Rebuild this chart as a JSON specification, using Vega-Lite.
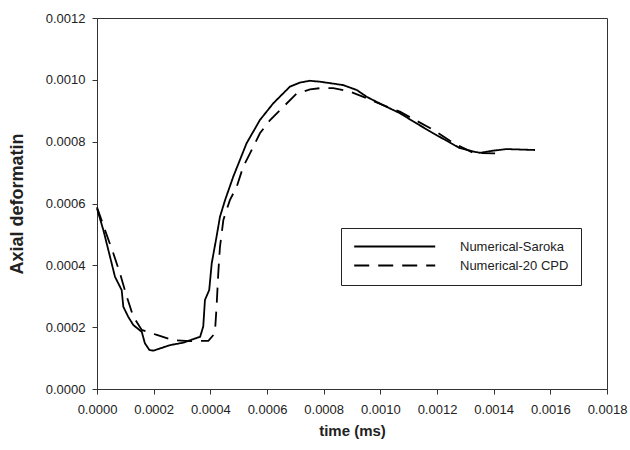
{
  "$schema": "https://vega.github.io/schema/vega-lite/v6.json",
  "autosize": "none",
  "padding": {"left": 97, "top": 18, "right": 23, "bottom": 61},
  "width": 510,
  "height": 371,
  "background": "white",
  "config": {
    "view": {"stroke": "#333", "strokeWidth": 1},
    "axis": {
      "grid": false,
      "domainColor": "#333",
      "tickColor": "#333",
      "tickSize": 5,
      "labelColor": "#222",
      "labelFont": "Liberation Sans",
      "labelFontSize": 13,
      "labelOverlap": false,
      "labelFlush": false,
      "titleFont": "Liberation Sans",
      "titleFontWeight": "bold",
      "titleColor": "#222"
    },
    "legend": {
      "orient": "none",
      "legendX": 244,
      "legendY": 210,
      "padding": 12,
      "strokeColor": "#222",
      "fillColor": "white",
      "symbolType": "M-2.65,0L37.85,0",
      "symbolSize": 16,
      "symbolStrokeWidth": 1.8,
      "symbolStrokeColor": "black",
      "labelOffset": 94,
      "rowPadding": 5,
      "labelFont": "Liberation Sans",
      "labelFontSize": 13,
      "labelColor": "#222"
    }
  },
  "data": {
    "values": [
      {"t": 0, "v": 0.000584, "series": "Numerical-Saroka"},
      {"t": 0.0000224, "v": 0.000514, "series": "Numerical-Saroka"},
      {"t": 0.0000459, "v": 0.000428, "series": "Numerical-Saroka"},
      {"t": 0.0000635, "v": 0.000363, "series": "Numerical-Saroka"},
      {"t": 0.0000871, "v": 0.00032, "series": "Numerical-Saroka"},
      {"t": 0.0000929, "v": 0.000266, "series": "Numerical-Saroka"},
      {"t": 0.00011, "v": 0.000234, "series": "Numerical-Saroka"},
      {"t": 0.000128, "v": 0.000207, "series": "Numerical-Saroka"},
      {"t": 0.000158, "v": 0.000185, "series": "Numerical-Saroka"},
      {"t": 0.000169, "v": 0.000148, "series": "Numerical-Saroka"},
      {"t": 0.000185, "v": 0.000126, "series": "Numerical-Saroka"},
      {"t": 0.000199, "v": 0.000124, "series": "Numerical-Saroka"},
      {"t": 0.000258, "v": 0.000142, "series": "Numerical-Saroka"},
      {"t": 0.000305, "v": 0.00015, "series": "Numerical-Saroka"},
      {"t": 0.000364, "v": 0.000169, "series": "Numerical-Saroka"},
      {"t": 0.000375, "v": 0.000202, "series": "Numerical-Saroka"},
      {"t": 0.000381, "v": 0.000288, "series": "Numerical-Saroka"},
      {"t": 0.000396, "v": 0.00032, "series": "Numerical-Saroka"},
      {"t": 0.000405, "v": 0.000407, "series": "Numerical-Saroka"},
      {"t": 0.000422, "v": 0.000493, "series": "Numerical-Saroka"},
      {"t": 0.000434, "v": 0.000557, "series": "Numerical-Saroka"},
      {"t": 0.000452, "v": 0.000611, "series": "Numerical-Saroka"},
      {"t": 0.000481, "v": 0.000687, "series": "Numerical-Saroka"},
      {"t": 0.000528, "v": 0.000795, "series": "Numerical-Saroka"},
      {"t": 0.000575, "v": 0.00087, "series": "Numerical-Saroka"},
      {"t": 0.000622, "v": 0.000924, "series": "Numerical-Saroka"},
      {"t": 0.000681, "v": 0.000978, "series": "Numerical-Saroka"},
      {"t": 0.000716, "v": 0.000991, "series": "Numerical-Saroka"},
      {"t": 0.00075, "v": 0.000997, "series": "Numerical-Saroka"},
      {"t": 0.000787, "v": 0.000994, "series": "Numerical-Saroka"},
      {"t": 0.000869, "v": 0.000983, "series": "Numerical-Saroka"},
      {"t": 0.000917, "v": 0.000967, "series": "Numerical-Saroka"},
      {"t": 0.000952, "v": 0.000945, "series": "Numerical-Saroka"},
      {"t": 0.00101, "v": 0.000918, "series": "Numerical-Saroka"},
      {"t": 0.001069, "v": 0.000892, "series": "Numerical-Saroka"},
      {"t": 0.001128, "v": 0.000859, "series": "Numerical-Saroka"},
      {"t": 0.001187, "v": 0.000827, "series": "Numerical-Saroka"},
      {"t": 0.001281, "v": 0.000779, "series": "Numerical-Saroka"},
      {"t": 0.001328, "v": 0.000768, "series": "Numerical-Saroka"},
      {"t": 0.001352, "v": 0.000764, "series": "Numerical-Saroka"},
      {"t": 0.001399, "v": 0.000771, "series": "Numerical-Saroka"},
      {"t": 0.001446, "v": 0.000776, "series": "Numerical-Saroka"},
      {"t": 0.001546, "v": 0.000773, "series": "Numerical-Saroka"},
      {"t": 0, "v": 0.000588, "series": "Numerical-20 CPD"},
      {"t": 0.0000282, "v": 0.000514, "series": "Numerical-20 CPD"},
      {"t": 0.0000576, "v": 0.000439, "series": "Numerical-20 CPD"},
      {"t": 0.0000812, "v": 0.000374, "series": "Numerical-20 CPD"},
      {"t": 0.000105, "v": 0.000299, "series": "Numerical-20 CPD"},
      {"t": 0.000128, "v": 0.000234, "series": "Numerical-20 CPD"},
      {"t": 0.000158, "v": 0.000191, "series": "Numerical-20 CPD"},
      {"t": 0.000211, "v": 0.000175, "series": "Numerical-20 CPD"},
      {"t": 0.000269, "v": 0.000158, "series": "Numerical-20 CPD"},
      {"t": 0.000328, "v": 0.000155, "series": "Numerical-20 CPD"},
      {"t": 0.000393, "v": 0.000156, "series": "Numerical-20 CPD"},
      {"t": 0.000416, "v": 0.00018, "series": "Numerical-20 CPD"},
      {"t": 0.000422, "v": 0.000266, "series": "Numerical-20 CPD"},
      {"t": 0.000428, "v": 0.000374, "series": "Numerical-20 CPD"},
      {"t": 0.000434, "v": 0.00046, "series": "Numerical-20 CPD"},
      {"t": 0.000446, "v": 0.000547, "series": "Numerical-20 CPD"},
      {"t": 0.000469, "v": 0.000611, "series": "Numerical-20 CPD"},
      {"t": 0.000493, "v": 0.000654, "series": "Numerical-20 CPD"},
      {"t": 0.000516, "v": 0.000719, "series": "Numerical-20 CPD"},
      {"t": 0.00054, "v": 0.000762, "series": "Numerical-20 CPD"},
      {"t": 0.000575, "v": 0.000827, "series": "Numerical-20 CPD"},
      {"t": 0.000611, "v": 0.00087, "series": "Numerical-20 CPD"},
      {"t": 0.000658, "v": 0.000913, "series": "Numerical-20 CPD"},
      {"t": 0.000705, "v": 0.000956, "series": "Numerical-20 CPD"},
      {"t": 0.000752, "v": 0.000969, "series": "Numerical-20 CPD"},
      {"t": 0.000787, "v": 0.000973, "series": "Numerical-20 CPD"},
      {"t": 0.000834, "v": 0.000973, "series": "Numerical-20 CPD"},
      {"t": 0.000893, "v": 0.000962, "series": "Numerical-20 CPD"},
      {"t": 0.00094, "v": 0.000945, "series": "Numerical-20 CPD"},
      {"t": 0.00101, "v": 0.000918, "series": "Numerical-20 CPD"},
      {"t": 0.001069, "v": 0.000897, "series": "Numerical-20 CPD"},
      {"t": 0.001187, "v": 0.000838, "series": "Numerical-20 CPD"},
      {"t": 0.001258, "v": 0.000795, "series": "Numerical-20 CPD"},
      {"t": 0.001328, "v": 0.000764, "series": "Numerical-20 CPD"},
      {"t": 0.001405, "v": 0.000762, "series": "Numerical-20 CPD"}
    ]
  },
  "mark": {"type": "line", "stroke": "black", "strokeWidth": 1.8},
  "encoding": {
    "x": {
      "field": "t",
      "type": "quantitative",
      "scale": {"domain": [0, 0.0018], "nice": false, "zero": false},
      "axis": {
        "title": "time (ms)",
        "titleFontSize": 15,
        "values": [0, 0.0002, 0.0004, 0.0006, 0.0008, 0.001, 0.0012, 0.0014, 0.0016, 0.0018],
        "format": ".4f",
        "labelPadding": 9,
        "titlePadding": 7
      }
    },
    "y": {
      "field": "v",
      "type": "quantitative",
      "scale": {"domain": [0, 0.0012], "nice": false},
      "axis": {
        "title": "Axial deformatin",
        "titleFontSize": 18,
        "values": [0, 0.0002, 0.0004, 0.0006, 0.0008, 0.001, 0.0012],
        "format": ".4f",
        "labelPadding": 7,
        "titlePadding": 19
      }
    },
    "strokeDash": {
      "field": "series",
      "type": "nominal",
      "scale": {"domain": ["Numerical-Saroka", "Numerical-20 CPD"], "range": [[1, 0], [15, 9]]},
      "legend": {"title": null}
    }
  }
}
